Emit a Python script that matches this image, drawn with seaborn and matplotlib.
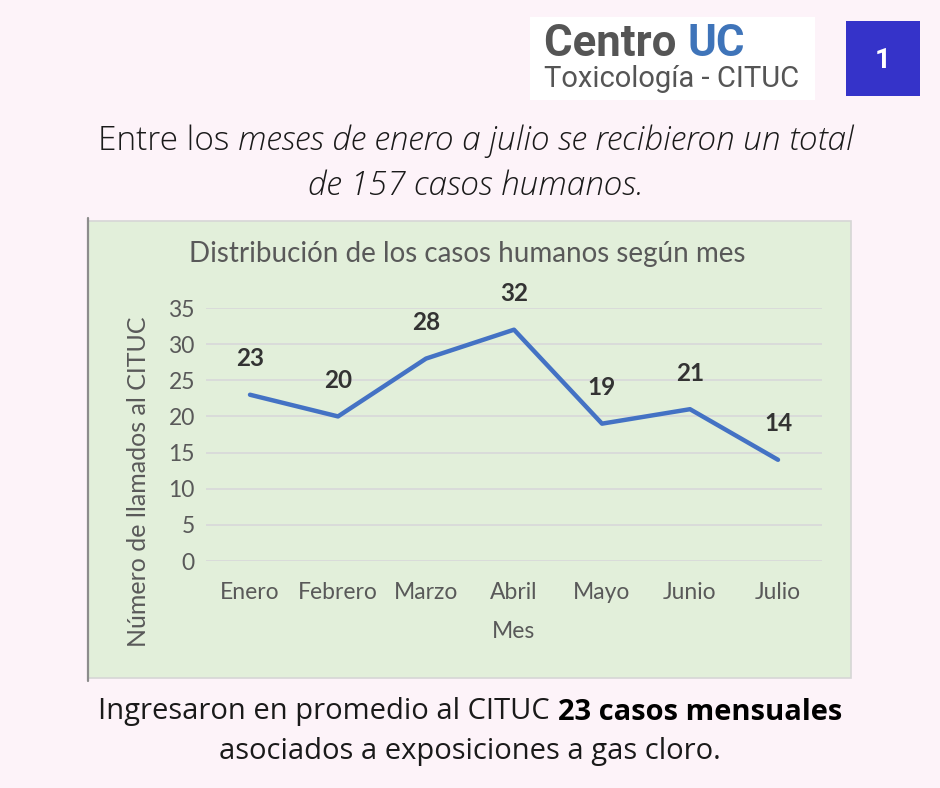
import pandas as pd
import seaborn as sns
from matplotlib import pyplot as plt
from matplotlib.patches import Rectangle


MONTHS = ["Enero", "Febrero", "Marzo", "Abril", "Mayo", "Junio", "Julio"]
CASES = [23, 20, 28, 32, 19, 21, 14]
Y_TICKS = [0, 5, 10, 15, 20, 25, 30, 35]

TITLE = "Distribución de los casos humanos según mes"
X_LABEL = "Mes"
Y_LABEL = "Número de llamados al CITUC"

W, H = 940, 788
BG = "#fdf3f9"
PANEL = "#e2efda"
LINE = "#4472c4"
GREY = "#595959"


def px(x, y):
    # pixel coords (top-left origin) -> figure fraction
    return x / W, 1 - y / H


def rich_line(fig, y, parts, size, family, cx=470, left=None):
    r = fig.canvas.get_renderer()
    items, total = [], 0
    for txt, style, weight, color in parts:
        t = fig.text(0, 0, txt, fontsize=size, family=family, style=style,
                     weight=weight, color=color, va="center", ha="left", zorder=3)
        w = t.get_window_extent(renderer=r).width
        items.append((t, w))
        total += w
    x = left if left is not None else cx - total / 2
    for t, w in items:
        t.set_position(px(x, y))
        x += w


sns.set_theme(style="whitegrid")
plt.rcParams["font.family"] = ["Lato", "DejaVu Sans"]

fig = plt.figure(figsize=(W / 100, H / 100), dpi=100, facecolor=BG)

# chart panel
x0, y0 = px(88, 678)
fig.patches.append(Rectangle((x0, y0), (851 - 88) / W, (678 - 221) / H,
                             transform=fig.transFigure, facecolor=PANEL,
                             edgecolor="#d6d6d6", lw=1.2, zorder=-2))
fig.add_artist(plt.Line2D([88 / W, 88 / W], [1 - 218 / H, 1 - 681 / H],
                          transform=fig.transFigure, color="#8c8c8c", lw=1.6, zorder=-1))

# logo
lx, ly = px(530, 100)
fig.patches.append(Rectangle((lx, ly), 285 / W, 83 / H, transform=fig.transFigure,
                             facecolor="white", edgecolor="none", zorder=-2))
logo_font = ["Roboto", "DejaVu Sans"]
rich_line(fig, 44, [("Centro ", "normal", "bold", "#555555"),
                    ("UC", "normal", "bold", "#3f74b9")], 31.5, logo_font, left=544)
rich_line(fig, 79, [("Toxicología - CITUC", "normal", "normal", "#555555")],
          21, logo_font, left=544)

# number box
bx, by = px(846, 96)
fig.patches.append(Rectangle((bx, by), 74 / W, 75 / H, transform=fig.transFigure,
                             facecolor="#3533c9", edgecolor="none", zorder=-2))
fig.text(*px(883, 60), "1", fontsize=20, weight="bold", color="white",
         family=logo_font, va="center", ha="center")

# header and footer text
head_font = ["Open Sans", "DejaVu Sans"]
ink = "#1a1a1a"
rich_line(fig, 141, [("Entre los ", "normal", "light", ink),
                     ("meses de enero a julio se recibieron un total", "italic", "light", ink)],
          24, head_font, cx=476)
rich_line(fig, 186, [("de 157 casos humanos.", "italic", "light", ink)], 24, head_font, cx=476)
rich_line(fig, 712, [("Ingresaron en promedio al CITUC ", "normal", "normal", ink),
                     ("23 casos mensuales", "normal", "bold", "black")], 21, head_font)
rich_line(fig, 752, [("asociados a exposiciones a gas cloro.", "normal", "normal", ink)],
          21, head_font)

# chart title
fig.text(*px(467, 254), TITLE, fontsize=20, color=GREY, ha="center", va="center")

# the chart itself
ax = fig.add_axes([206 / W, 1 - 561 / H, (822 - 206) / W, (561 - 308) / H])
ax.set_facecolor("none")
df = pd.DataFrame({"mes": MONTHS, "casos": CASES})
sns.lineplot(data=df, x="mes", y="casos", ax=ax, color=LINE, lw=3.2, sort=False)

for i, v in enumerate(CASES):
    ax.annotate(str(v), (i, v), xytext=(0, 26), textcoords="offset points",
                ha="center", va="center", fontsize=17.5, weight="bold", color="#333333")

ax.set_xlim(-0.5, len(MONTHS) - 0.5)
ax.set_ylim(0, 35)
ax.set_yticks(Y_TICKS)
ax.grid(axis="y", color="#d9d9d9", lw=1.3)
ax.grid(axis="x", visible=False)
for s in ax.spines.values():
    s.set_visible(False)
ax.tick_params(axis="both", length=0, labelsize=16.5, labelcolor=GREY)
ax.tick_params(axis="x", pad=15)
ax.tick_params(axis="y", pad=8)
ax.set_xlabel(X_LABEL, fontsize=16.5, color=GREY)
ax.xaxis.set_label_coords(0.5, -(631 - 561) / 253)
ax.xaxis.label.set_va("center")
ax.set_ylabel(Y_LABEL, fontsize=18, color=GREY)
ax.yaxis.set_label_coords(-0.091, (561 - 481.5) / 253)

fig.savefig("out.png", dpi=100, facecolor=BG)
